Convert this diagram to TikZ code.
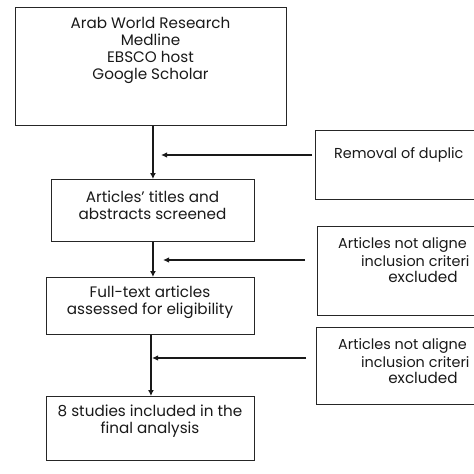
\documentclass[tikz,border=0pt]{standalone}
\usepackage{fontspec}
\setmainfont{Poppins}
\usetikzlibrary{arrows.meta}

\begin{document}
\begin{tikzpicture}[x=1pt, y=-1pt,
  stage/.style = {draw=black!85, line width=0.9pt, anchor=north west, inner sep=0pt},
  words/.style = {align=center, font=\fontsize{15.2}{17}\selectfont, text=black!90},
  edgewords/.style = {words, anchor=west, inner xsep=0pt, font=\fontsize{14.4}{17}\selectfont},
  flow/.style  = {draw=black!90, line width=1.7pt, -{Latex[length=6pt, width=6pt]}},
  side/.style  = {draw=black!90, line width=1.2pt, -{Latex[length=6pt, width=5.5pt]}}]
\useasboundingbox (0,0) rectangle (474,474);
\clip (0,0) rectangle (474,474);
% main column
\node [stage, minimum width=271pt, minimum height=118pt] (sources) at (15,7) {};
\node [stage, minimum width=203pt, minimum height=62pt] (screen) at (51,179) {};
\node [stage, minimum width=208pt, minimum height=57pt] (fulltext) at (46,277) {};
\node [stage, minimum width=208pt, minimum height=64pt] (final) at (46,396) {};
\node [words] (sourcestext) at (150.5,50.5) {Arab World Research\\Medline\\EBSCO host\\Google Scholar};
\node [words] (screentext) at (152.5,205) {Articles’ titles and\\abstracts screened};
\node [words] (fulltexttext) at (150,302.5) {Full-text articles\\assessed for eligibility};
\node [words] (finaltext) at (150,421.5) {8 studies included in the\\final analysis};
% exclusions on the right (cut by the page edge)
\node [stage, minimum width=212pt, minimum height=69pt] (dup) at (315,130) {};
\node [stage, minimum width=212pt, minimum height=89pt] (misfit) at (317,226) {};
\node [stage, minimum width=212pt, minimum height=77pt] (misfitb) at (316,327) {};
\node [edgewords] (duptext) at (334,155) {Removal of duplic};
\node [edgewords] (misfittexta) at (338,245) {Articles not aligne};
\node [edgewords] (misfittextb) at (361,261) {inclusion criteri};
\node [words] (misfittextc) at (423,277) {excluded};
\node [edgewords] (misfitbtexta) at (338,346) {Articles not aligne};
\node [edgewords] (misfitbtextb) at (361,362) {inclusion criteri};
\node [words] (misfitbtextc) at (423,378) {excluded};
% arrows
\coordinate (j1) at (161,155);
\coordinate (j2) at (163,260);
\coordinate (j3) at (152,358);
\draw [flow] (sources.south -| screen.north) -- (screen.north);
\draw [flow] (screen.south) -- (screen.south |- fulltext.north);
\draw [flow, line width=1.5pt] ([xshift=0.5pt]fulltext.south) -- ([xshift=0.5pt]final.north);
\draw [side] (312,155) -- (j1);
\draw [side] (305,260) -- (j2);
\draw [side] (306,358) -- (j3);
\end{tikzpicture}
\end{document}
